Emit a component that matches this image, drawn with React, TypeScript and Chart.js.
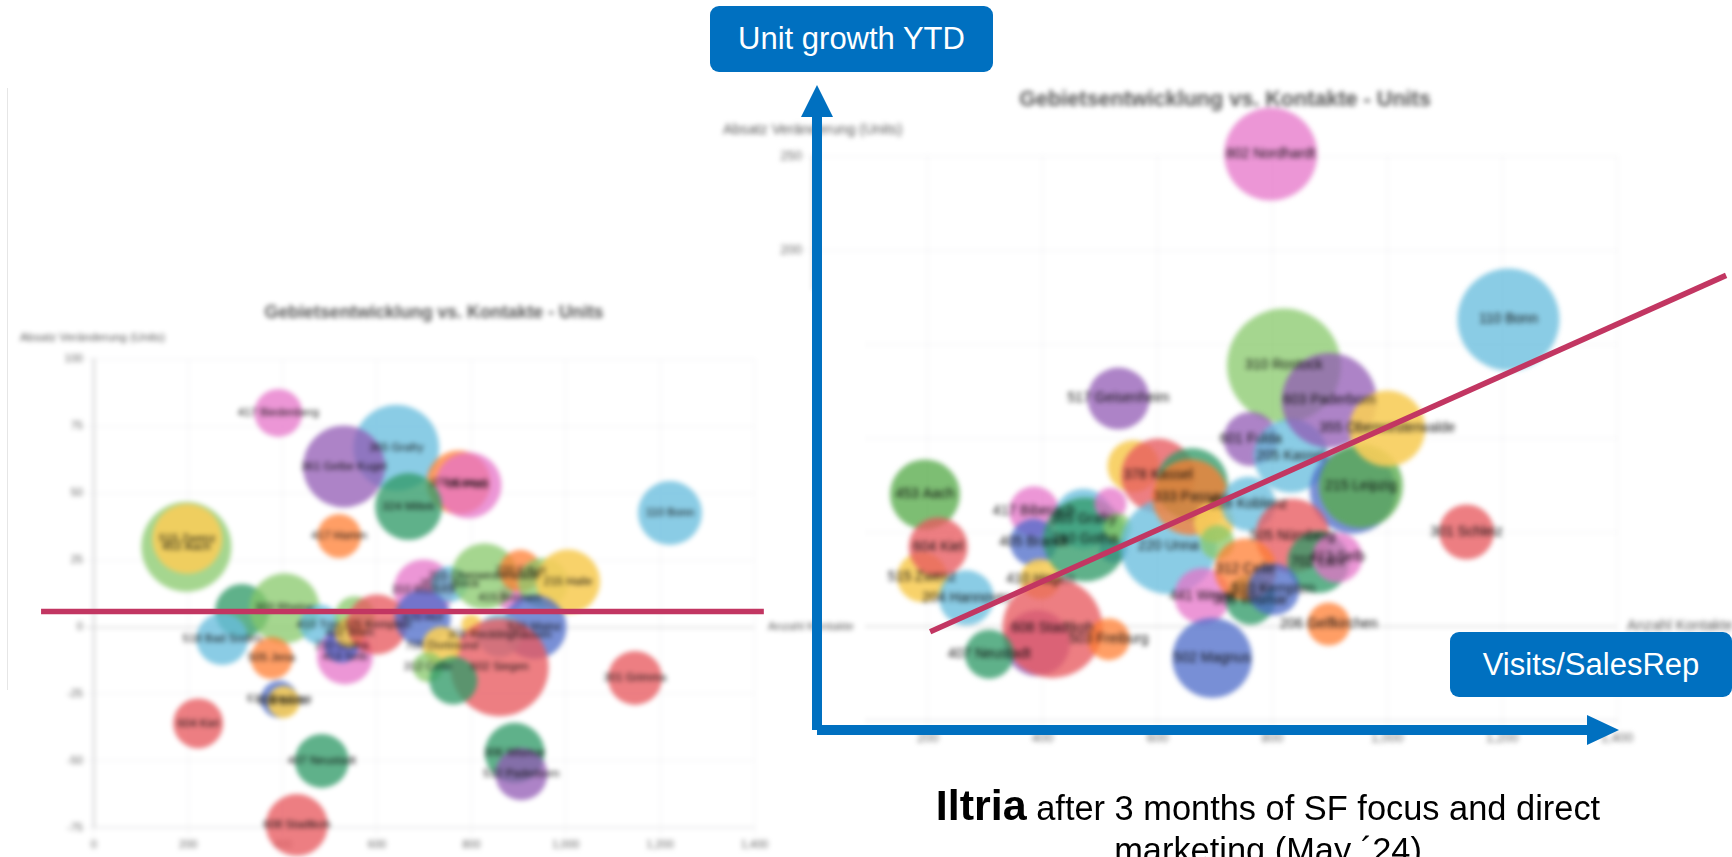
import React, { useEffect, useRef } from "react";
import { Chart, registerables } from "chart.js";
Chart.register(...registerables);

const chartTitle = "Gebietsentwicklung vs. Kontakte - Units";
const yAxisName = "Absatz Veränderung (Units)";
const xAxisName = "Anzahl Kontakte";

const palette: Record<string, string> = {
  red: "rgba(232,90,95,0.78)",
  green: "rgba(50,155,105,0.78)",
  leaf: "rgba(88,172,75,0.78)",
  blue: "rgba(105,190,222,0.78)",
  purple: "rgba(145,90,180,0.75)",
  pink: "rgba(230,115,200,0.75)",
  orange: "rgba(255,125,50,0.75)",
  lime: "rgba(135,200,105,0.75)",
  indigo: "rgba(75,105,200,0.75)",
  yellow: "rgba(247,205,90,0.9)",
};

const leftNames = ["417 Biedenberg","365 Grafry","361 Gelbe Kugel","378 Kassel","86 Pfalz","324 Miltek","110 Bonn","417 Hamm","453 Aach","515 Zwenz","310 Rostock","415 Bremen","350 Lübeck","355 Oberwesterwalde","220 Erfurt","","215 Halle","","303 Rheine","410 Trier","518 Bad Soden","505 Jena","413 Selb","210 Gotha","","402 Wien","325 Kempten","420 Hof","","510 Mainz","308 Recklinghausen","602 Siegen","705 Dortmund","312 Celle","","301 Grimma","610 Bautzen","508 Berlin","604 Kiel","407 Neustadt","306 Wismar","512 Paderborn","608 Stadtkoh"];
const leftX = [391,641,530,773,794,667,1221,520,196,198,699,881,754,828,904,952,1005,314,404,478,272,377,532,525,553,542,600,697,800,934,860,860,737,708,762,1147,393,402,221,483,892,906,430];
const leftY = [80,67,60,54,53,45,42.6,34,30,33,14,11,16,19,21,16.5,17,6,7,1,-4.5,-11.6,-11,-7,4,-2,1,3.4,1,0,-3,-15,-7,-15,-20,-19,-27,-28,-36,-50,-47,-55,-74];
const leftR = [24,43,41,32,33,33.5,32,22,45,35,30,13,18,33,21,25,32,27,35,20,26,21,28,17,20,15,30,28,10,32,22,49,19,15,24,27,18.5,16,25,27,30,26,31];
const leftColors = ["pink","blue","purple","orange","pink","green","blue","orange","lime","yellow","pink","pink","blue","lime","orange","lime","yellow","green","lime","blue","blue","orange","pink","indigo","lime","yellow","red","indigo","yellow","indigo","blue","red","yellow","lime","green","red","indigo","yellow","red","green","green","purple","red"];
const leftXTicks = [0,200,400,600,800,1000,1200,1400];
const leftTrendX = [-112,1420];
const leftTrendY = [5.8,5.8];

const rightNames = ["802 Nordhardt","110 Bonn","310 Rostock","601 Fulda","205 Kassel","603 Paderborn","517 Geisenheim","","215 Leipzig","355 Oberwesterwalde","453 Aach","515 Zwenz","604 Kiel","301 Schleiz","204 Hannover","417 Biberach","405 Brandt","410 Hagen","365 Grafry","","210 Gotha","","","","378 Kassel","220 Unna","","333 Passau","","","518 Koblenz","505 Nürnberg","441 Wesel","306 Wismar","312 Celle","702 Lahr","413 Selb","510 Kempten","","608 Stadtkoh","503 Freiburg","407 Neustadt","502 Magnus","206 Gelfkirchen"];
const rightX = [797,1211,820,762,832,899,532,940,954,1000,195,190,218,1138,267,385,384,396,471,523,474,518,530,558,601,619,660,657,698,704,758,835,678,762,753,880,913,802,390,417,515,307,695,898];
const rightY = [251,163,138.5,99.5,90.5,120,121,72,74.5,105,70,26,42,50,15,61,44.5,25,57,41,46,65,52.5,85,80,42.5,75.5,68.5,55,44.5,65,48,16,14,30,34,36.5,19.5,-9,-1,-7,-15,-17,1];
const rightR = [46.5,51,57,27,37,47.5,31,43,42,38,35,25,29.5,27.5,27.5,25,23.5,20,30,14,42,16,14,26,37,48,36,38,20,17,27,37,28,25,31,31,25,26,33,50,21,24.5,40,21.5];
const rightColors = ["pink","blue","lime","purple","blue","purple","purple","indigo","leaf","yellow","leaf","yellow","red","red","blue","pink","indigo","yellow","blue","indigo","green","pink","lime","yellow","red","blue","green","orange","yellow","lime","blue","red","pink","green","orange","green","pink","indigo","purple","red","orange","green","indigo","orange"];
const rightXTicks = [0,200,400,600,800,1000,1200,1400];
const rightTrendX = [204,1590];
const rightTrendY = [-3,186.5];

type Panel = {
  left: number; top: number; width: number; height: number;
  plotLeft: number; plotRight: number; plotTop: number; plotBottom: number;
  yMin: number; yMax: number; yStep: number; xTicks: number[];
  titleSize: number; titleX: number; titleY: number; tickSize: number; labelSize: number; nameSize: number;
  yNameX: number; yNameY: number; xNameX: number;
  names: string[]; xs: number[]; ys: number[]; rs: number[]; colors: string[];
  trendX: number[]; trendY: number[]; blur: number; background: string; trendWidth: number;
};

const panels: Panel[] = [
  { left: 720, top: 0, width: 1012, height: 857, plotLeft: 813, plotRight: 1617, plotTop: 156, plotBottom: 720,
    yMin: -50, yMax: 250, yStep: 50, xTicks: rightXTicks, titleSize: 21.6, titleX: 1225, titleY: 100, tickSize: 13, labelSize: 14, nameSize: 14.6,
    yNameX: 723, yNameY: 130, xNameX: 1627, names: rightNames, xs: rightX, ys: rightY, rs: rightR, colors: rightColors,
    trendX: rightTrendX, trendY: rightTrendY, blur: 2.6, background: "transparent", trendWidth: 5.5 },
  { left: 0, top: 290, width: 865, height: 567, plotLeft: 93.9, plotRight: 754.4, plotTop: 359.4, plotBottom: 827.8,
    yMin: -75, yMax: 100, yStep: 25, xTicks: leftXTicks, titleSize: 17.8, titleX: 434, titleY: 313.5, tickSize: 11, labelSize: 11.5, nameSize: 11.8,
    yNameX: 20, yNameY: 338, xNameX: 768, names: leftNames, xs: leftX, ys: leftY, rs: leftR, colors: leftColors,
    trendX: leftTrendX, trendY: leftTrendY, blur: 2.4, background: "#fff", trendWidth: 5.5 },
];

function makeBubble(canvas: HTMLCanvasElement, p: Panel) {
  const labelsPlugin = {
    id: "bubbleLabels",
    afterDatasetsDraw(chart: any) {
      const { ctx, scales } = chart;
      const meta = chart.getDatasetMeta(0);
      ctx.save();
      ctx.textAlign = "center";
      ctx.textBaseline = "middle";
      ctx.font = `${p.labelSize}px "Liberation Sans"`;
      ctx.fillStyle = "rgba(10,10,10,0.95)";
      meta.data.forEach((el: any, i: number) => ctx.fillText(p.names[i] ?? "", el.x, el.y));
      ctx.fillStyle = "#555";
      ctx.font = `bold ${p.titleSize}px "Liberation Sans"`;
      ctx.fillText(chartTitle, p.titleX - p.left, p.titleY - p.top);
      ctx.font = `${p.nameSize}px "Liberation Sans"`;
      ctx.textAlign = "left";
      ctx.fillText(yAxisName, p.yNameX - p.left, p.yNameY - p.top);
      ctx.fillText(xAxisName, p.xNameX - p.left, scales.y.getPixelForValue(0));
      ctx.restore();
    },
  };
  return new Chart(canvas, {
    type: "bubble",
    data: {
      datasets: [{
        data: p.xs.map((x, i) => ({ x, y: p.ys[i], r: p.rs[i] })),
        backgroundColor: p.colors.map((c) => palette[c]),
        borderWidth: 0,
        clip: false as any,
      }],
    },
    options: {
      responsive: false,
      animation: false,
      layout: { autoPadding: false, padding: { top: p.plotTop - p.top, right: p.left + p.width - p.plotRight } },
      plugins: { legend: { display: false }, tooltip: { enabled: false }, title: { display: false } },
      scales: {
        x: {
          type: "linear", min: 0, max: 1400,
          afterFit: (s: any) => { s.height = p.top + p.height - p.plotBottom; },
          afterBuildTicks: (s: any) => { s.ticks = p.xTicks.map((value) => ({ value })); },
          grid: { color: "rgba(60,60,90,0.07)" },
          ticks: { color: "#666", font: { family: "Liberation Sans", size: p.tickSize }, maxRotation: 0, autoSkip: false,
            callback: (v: any) => Number(v).toLocaleString("en-US") },
        },
        y: {
          type: "linear", min: p.yMin, max: p.yMax,
          afterFit: (s: any) => { s.width = p.plotLeft - p.left; },
          border: { color: "rgba(0,0,0,0.16)", width: 2 },
          grid: { color: (c: any) => (c.tick && c.tick.value === 0 ? "rgba(0,0,0,0.22)" : "rgba(60,60,90,0.07)") },
          ticks: { stepSize: p.yStep, color: "#666", font: { family: "Liberation Sans", size: p.tickSize } },
        },
      },
    },
    plugins: [labelsPlugin],
  } as any);
}

function makeTrend(canvas: HTMLCanvasElement, p: Panel) {
  return new Chart(canvas, {
    type: "line",
    data: {
      datasets: [{
        data: p.trendX.map((x, i) => ({ x, y: p.trendY[i] })),
        borderColor: "#C23662", borderWidth: p.trendWidth, pointRadius: 0, clip: false as any, tension: 0,
      }],
    },
    options: {
      responsive: false, animation: false, parsing: false,
      layout: { autoPadding: false, padding: {
        left: p.plotLeft - p.left, right: p.left + p.width - p.plotRight,
        top: p.plotTop - p.top, bottom: p.top + p.height - p.plotBottom } },
      plugins: { legend: { display: false }, tooltip: { enabled: false }, title: { display: false } },
      scales: {
        x: { type: "linear", min: 0, max: 1400, display: false },
        y: { type: "linear", min: p.yMin, max: p.yMax, display: false },
      },
    },
  } as any);
}

const BLUE = "#0070C0";
const font = '"Liberation Sans", Arial, sans-serif';
const badge = (left: number, top: number, width: number, height: number): React.CSSProperties => ({
  position: "absolute", left, top, width, height, background: BLUE, borderRadius: 9, color: "#fff",
  display: "flex", alignItems: "center", justifyContent: "center", fontFamily: font, fontSize: 31,
});

export default function App() {
  const bubbleRefs = [useRef<HTMLCanvasElement>(null), useRef<HTMLCanvasElement>(null)];
  const trendRefs = [useRef<HTMLCanvasElement>(null), useRef<HTMLCanvasElement>(null)];
  useEffect(() => {
    const charts = panels.flatMap((p, i) => [makeBubble(bubbleRefs[i].current!, p), makeTrend(trendRefs[i].current!, p)]);
    return () => charts.forEach((c) => c.destroy());
  }, []);
  return (
    <div style={{ position: "fixed", left: 0, top: 0, width: 1732, height: 857, overflow: "hidden", background: "#fff" }}>
      {panels.map((p, i) => (
        <canvas key={i} ref={bubbleRefs[i]} width={p.width} height={p.height}
          style={{ position: "absolute", left: p.left, top: p.top, width: p.width, height: p.height, filter: `blur(${p.blur}px)`, background: p.background }} />
      ))}
      <div style={{ position: "absolute", left: 7, top: 88, width: 1, height: 602, background: "#e6e6e6" }} />
      {panels.map((p, i) => (
        <canvas key={i} ref={trendRefs[i]} width={p.width} height={p.height}
          style={{ position: "absolute", left: p.left, top: p.top, width: p.width, height: p.height }} />
      ))}
      <svg width={1732} height={857} style={{ position: "absolute", left: 0, top: 0 }}>
        <polygon points="812,730 812,117 801,117 817,85 833,117 822,117 822,725 1587,725 1587,715 1619,730 1587,745 1587,735 817,735 817,730" fill={BLUE} />
      </svg>
      <div style={badge(710, 6, 283, 66)}>Unit growth YTD</div>
      <div style={badge(1450, 632, 282, 65)}>Visits/SalesRep</div>
      <div style={{ position: "absolute", left: 880, top: 784, width: 776, textAlign: "center", fontFamily: font, fontSize: 34.4, lineHeight: "42px", color: "#000" }}>
        <b style={{ fontSize: 43 }}>Iltria</b> after 3 months of SF focus and direct<br />marketing (May ´24)
      </div>
    </div>
  );
}
